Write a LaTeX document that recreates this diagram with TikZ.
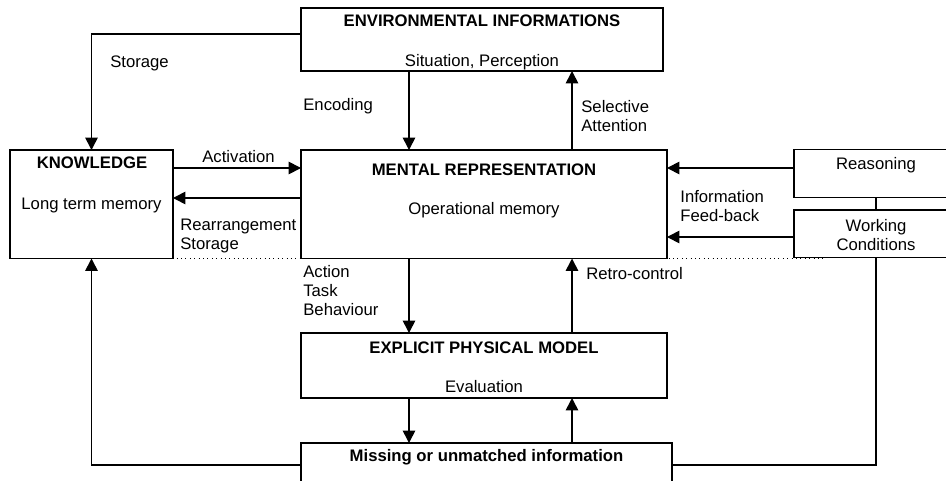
\documentclass[tikz,border=0pt]{standalone}
\usepackage{fontspec}
\setmainfont{Liberation Sans}
\usetikzlibrary{arrows.meta,calc}
\begin{document}
\begin{tikzpicture}[x=0.02cm, y=-0.02cm,
    font=\fontsize{9.5}{10.8}\selectfont,
    box/.style={draw, line width=1pt, inner sep=0pt, outer sep=0pt},
    ttl/.style={font=\fontsize{9.5}{10.8}\selectfont\bfseries, inner sep=0pt, anchor=base},
    txt/.style={inner sep=0pt, anchor=base},
    lbl/.style={inner sep=0pt, anchor=north west, align=left},
    flow/.style={line width=0.9pt, -{Triangle[length=7pt, width=7pt]}},
    link/.style={line width=0.9pt}]
    \useasboundingbox (0,0) rectangle (946,480);
    \clip (0,0) rectangle (946,480);

    % lanes and rows for the connectors
    \coordinate (laneL) at (409,0);
    \coordinate (laneR) at (572,0);
    \coordinate (rowA) at (0,168);
    \coordinate (rowB) at (0,198);
    \coordinate (rowC) at (0,237);
    \coordinate (rowD) at (0,465);

    \node[box, minimum width=7.24cm, minimum height=1.26cm] (env) at (482,39.5) {};
    \node[box, minimum width=3.26cm, minimum height=2.17cm] (know) at (91.5,204.25) {};
    \node[box, minimum width=7.32cm, minimum height=2.17cm] (mental) at (484,204.25) {};
    \node[box, minimum width=3.28cm, minimum height=0.96cm] (reason) at (876,173.5) {};
    \node[box, minimum width=3.28cm, minimum height=0.95cm] (work) at (876,233.75) {};
    \node[box, minimum width=7.32cm, minimum height=1.3cm] (explicit) at (484,365.5) {};
    \node[box, minimum width=7.42cm, minimum height=1.2cm] (missing) at (486.5,473) {};

    \node[ttl] (envtitle) at (482,27) {ENVIRONMENTAL INFORMATIONS};
    \node[txt] (envsub) at (482,66) {Situation, Perception};
    \node[ttl] (knowtitle) at (92,168) {KNOWLEDGE};
    \node[txt] (knowsub) at (91.5,209) {Long term memory};
    \node[ttl] (mentaltitle) at (484,175) {MENTAL REPRESENTATION};
    \node[txt] (mentalsub) at (484,214) {Operational memory};
    \node[txt] (reasontext) at (876,169) {Reasoning};
    \node[txt, align=center] (worktext) at (876,250) {Working\\Conditions};
    \node[ttl] (explicittitle) at (484,353) {EXPLICIT PHYSICAL MODEL};
    \node[txt] (explicitsub) at (484,392) {Evaluation};
    \node[ttl] (missingtitle) at (486.5,461) {Missing or unmatched information};

    \draw[flow] ($(env.north west)+(0,26)$) -| (know.north) node[lbl, pos=0.5, xshift=0.36cm, yshift=-0.42cm] (storagelbl) {Storage};
    \draw[flow] (env.south -| laneL) -- (mental.north -| laneL);
    \draw[flow] (mental.north -| laneR) -- (env.south -| laneR);
    \draw[flow] (know.east |- rowA) -- (mental.west |- rowA);
    \draw[flow] (mental.west |- rowB) -- (know.east |- rowB);
    \draw[flow] (reason.west |- rowA) -- (mental.east |- rowA);
    \draw[flow] (work.west |- rowC) -- (mental.east |- rowC);
    \draw[link] (reason.south) -- (work.north);
    \draw[flow] (mental.south -| laneL) -- (explicit.north -| laneL);
    \draw[flow] (explicit.north -| laneR) -- (mental.south -| laneR);
    \draw[flow] (explicit.south -| laneL) -- (missing.north -| laneL);
    \draw[flow] (missing.north -| laneR) -- (explicit.south -| laneR);
    \draw[flow] (missing.west |- rowD) -| (know.south);
    \draw[link] (work.south) |- (missing.east |- rowD);

    \draw[dotted, line width=0.5pt] (124,258.5) -- (823,258.5);

    \node[lbl] (encodinglbl) at (303,98) {Encoding};
    \node[lbl] (selectivelbl) at (581,100) {Selective\\Attention};
    \node[lbl] (activationlbl) at (202,150) {Activation};
    \node[lbl] (rearrangelbl) at (180,219) {Rearrangement\\Storage};
    \node[lbl] (feedbacklbl) at (680,190) {Information\\Feed-back};
    \node[lbl] (actionlbl) at (303,265) {Action\\Task\\Behaviour};
    \node[lbl] (retrolbl) at (586,267) {Retro-control};
\end{tikzpicture}
\end{document}
